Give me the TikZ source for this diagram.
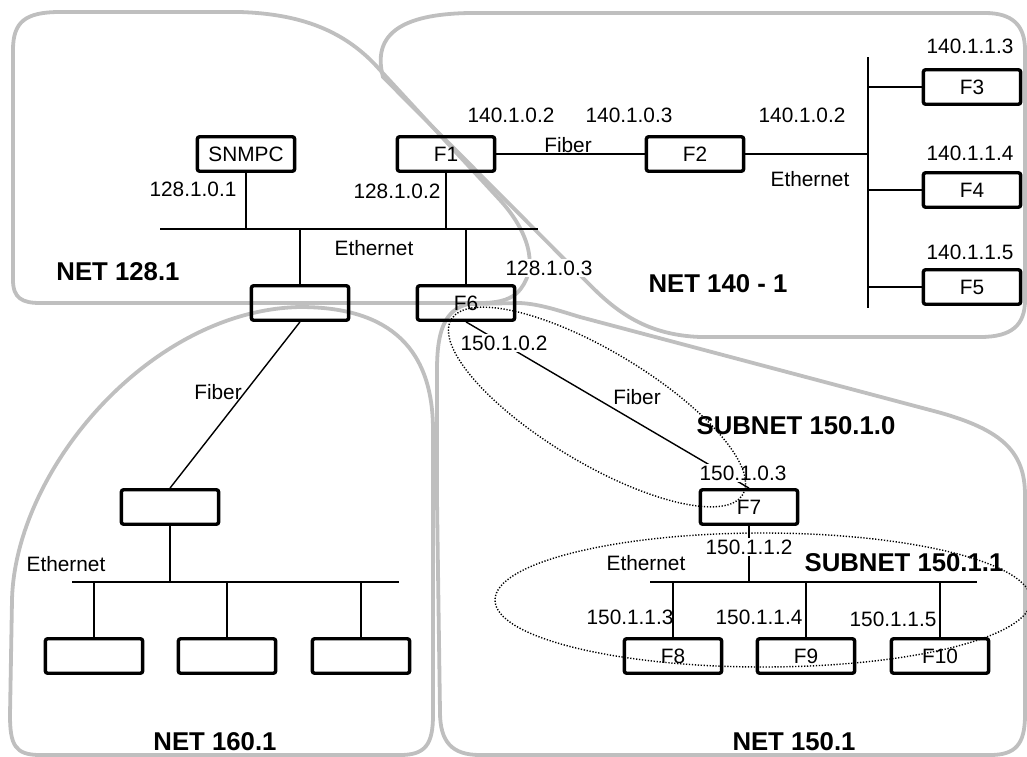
\documentclass[tikz,border=0pt]{standalone}
\usepackage{fontspec}
\setmainfont{Liberation Sans}
\usetikzlibrary{calc}
\newcommand{\addrfont}{\fontsize{14.8}{17}\selectfont}
\newcommand{\netfont}{\fontsize{18.3}{21}\selectfont\bfseries}
\tikzset{
  % Device boxes and labels
  dev/.style={rectangle, draw=black, line width=2.4pt, rounded corners=1.5pt, minimum width=2.43cm, minimum height=0.86cm, inner sep=0pt, font=\addrfont},
  addr/.style={font=\addrfont, inner sep=1pt},
  addrcut/.style={addr, fill=white},
  netname/.style={font=\netfont, inner sep=1pt},
  % Lines
  wire/.style={line width=1.4pt},
  fiberline/.style={line width=1pt},
  region/.style={draw=black!25, line width=2.7pt},
  subnet/.style={line width=1pt, dash pattern=on 0.9pt off 1.2pt},
}

\begin{document}
\begin{tikzpicture}[x=0.025cm, y=-0.025cm]
    \useasboundingbox (0,0) rectangle (1027,757);
    % Row heights
    \def\yTop{154} \def\yGw{303} \def\yMid{507} \def\yLow{656}
    % Network regions (grey outlines), under everything else
    \draw[region] (13,150) -- (13,50) .. controls (13,22) and (25,12) .. (60,12) -- (240,12)
      .. controls (300,14) and (345,30) .. (380,70) -- (500,200)
      .. controls (530,233) and (540,270) .. (517,293)
      .. controls (508,301) and (495,303) .. (480,303) -- (40,303)
      .. controls (22,303) and (13,298) .. (13,280) -- cycle;
    \draw[region] (800,337) -- (980,337) .. controls (1012,337) and (1025,325) .. (1025,300)
      -- (1025,50) .. controls (1025,25) and (1012,13) .. (985,13) -- (470,13)
      .. controls (400,14) and (372,35) .. (383,77) -- (592,287)
      .. controls (620,315) and (650,335) .. (700,337) -- cycle;
    \draw[region] (433,500) -- (433,715) .. controls (433,745) and (425,755) .. (400,755)
      -- (40,755) .. controls (15,755) and (10,745) .. (10,715) -- (12,600)
      .. controls (15,470) and (150,310) .. (300,307)
      .. controls (380,307) and (433,340) .. (433,430) -- cycle;
    \draw[region] (437,500) -- (437,370) .. controls (437,330) and (445,310) .. (468,304)
      -- (520,303) .. controls (540,304) and (560,311) .. (580,317) -- (930,410)
      .. controls (1000,428) and (1025,450) .. (1025,495) -- (1025,715)
      .. controls (1025,745) and (1015,755) .. (990,755) -- (480,755)
      .. controls (452,755) and (440,742) .. (440,712) -- cycle;
    % Devices
    \node[dev] (snmpc) at (246,\yTop) {SNMPC};
    \node[dev] (f1) at (446,\yTop) {F1};
    \node[dev] (f2) at (695,\yTop) {F2};
    \node[dev] (f3) at (972,87) {F3};
    \node[dev] (f4) at (972,190) {F4};
    \node[dev] (f5) at (972,287) {F5};
    \node[dev] (gwA) at (300,\yGw) {};
    \node[dev] (f6) at (466,\yGw) {F6};
    \node[dev] (gwB) at (170,\yMid) {};
    \node[dev] (f7) at (749,\yMid) {F7};
    \foreach \n/\x in {hA/94, hB/227, hC/361} {
      \node[dev] (\n) at (\x,\yLow) {};
    }
    \foreach \n/\x/\t in {f8/673/F8, f9/806/F9, f10/940/F10} {
      \node[dev] (\n) at (\x,\yLow) {\t};
    }
    % NET 128.1: Ethernet bus
    \coordinate (busA-w) at (160,229);
    \coordinate (busA-e) at (538,229);
    \draw[wire] (busA-w) -- (busA-e);
    \foreach \n in {snmpc, f1} {
      \draw[wire] (\n.south) -- (\n.south |- busA-w);
    }
    \foreach \n in {gwA, f6} {
      \draw[wire] (\n.north) -- (\n.north |- busA-w);
    }
    % NET 140 - 1: fiber F1-F2, vertical Ethernet bus
    \coordinate (busB-n) at (868,57);
    \coordinate (busB-s) at (868,308);
    \draw[wire] (f1.east) -- (f2.west);
    \draw[wire] (busB-n) -- (busB-s);
    \draw[wire] (f2.east) -- (f2.east -| busB-n);
    \foreach \n in {f3, f4, f5} {
      \draw[wire] (\n.west) -- (\n.west -| busB-n);
    }
    % NET 160.1
    \coordinate (busC-w) at (72,582);
    \coordinate (busC-e) at (399,582);
    \draw[fiberline] (gwA.south) -- (gwB.north);
    \draw[wire] (busC-w) -- (busC-e);
    \draw[wire] (gwB.south) -- (gwB.south |- busC-w);
    \foreach \n in {hA, hB, hC} {
      \draw[wire] (\n.north) -- (\n.north |- busC-w);
    }
    % NET 150.1
    \coordinate (busD-w) at (650,582);
    \coordinate (busD-e) at (977,582);
    \draw[fiberline] (f6.south) -- (f7.north);
    \draw[wire] (busD-w) -- (busD-e);
    \draw[wire] (f7.south) -- (f7.south |- busD-w);
    \foreach \n in {f8, f9, f10} {
      \draw[wire] (\n.north) -- (\n.north |- busD-w);
    }
    % Addresses
    \node[addr] (ipSnmpc) at (193,189) {128.1.0.1};
    \node[addr] (ipF1a) at (397,191) {128.1.0.2};
    \node[addrcut] (ipF6a) at (549,268) {128.1.0.3};
    \node[addr] (ipF1b) at (511,115) {140.1.0.2};
    \node[addr] (ipF2a) at (629,115) {140.1.0.3};
    \node[addr] (ipF2b) at (802,115) {140.1.0.2};
    \node[addr] (ipF3) at (970,46) {140.1.1.3};
    \node[addr] (ipF4) at (970,153) {140.1.1.4};
    \node[addr] (ipF5) at (970,252) {140.1.1.5};
    \node[addrcut] (ipF6b) at (504,343) {150.1.0.2};
    \node[addrcut] (ipF7a) at (743,473) {150.1.0.3};
    \node[addrcut] (ipF7b) at (749,547) {150.1.1.2};
    \node[addr] (ipF8) at (630,617) {150.1.1.3};
    \node[addr] (ipF9) at (759,617) {150.1.1.4};
    \node[addr] (ipF10) at (893,619) {150.1.1.5};
    % Link types
    \node[addr] (fibA) at (568,145) {Fiber};
    \node[addr] (ethA) at (374,248) {Ethernet};
    \node[addr] (ethB) at (810,179) {Ethernet};
    \node[addr] (fibC) at (218,392) {Fiber};
    \node[addr] (ethC) at (66,564) {Ethernet};
    \node[addr] (fibD) at (637,397) {Fiber};
    \node[addr] (ethD) at (646,563) {Ethernet};
    % Network names
    \node[netname] (n128) at (118,272) {NET 128.1};
    \node[netname] (n140) at (718,284) {NET 140 - 1};
    \node[netname] (n160) at (215,742) {NET 160.1};
    \node[netname] (n150) at (794,742) {NET 150.1};
    \node[netname] (s1500) at (796,426) {SUBNET 150.1.0};
    \node[netname] (s1501) at (904,563) {SUBNET 150.1.1};
    % Subnets (dotted)
    \draw[subnet, rotate around={-31:(597,407)}] (597,407) ellipse [x radius=170, y radius=56];
    \draw[subnet] (763,600) ellipse [x radius=268, y radius=67];
  \end{tikzpicture}
\end{document}
